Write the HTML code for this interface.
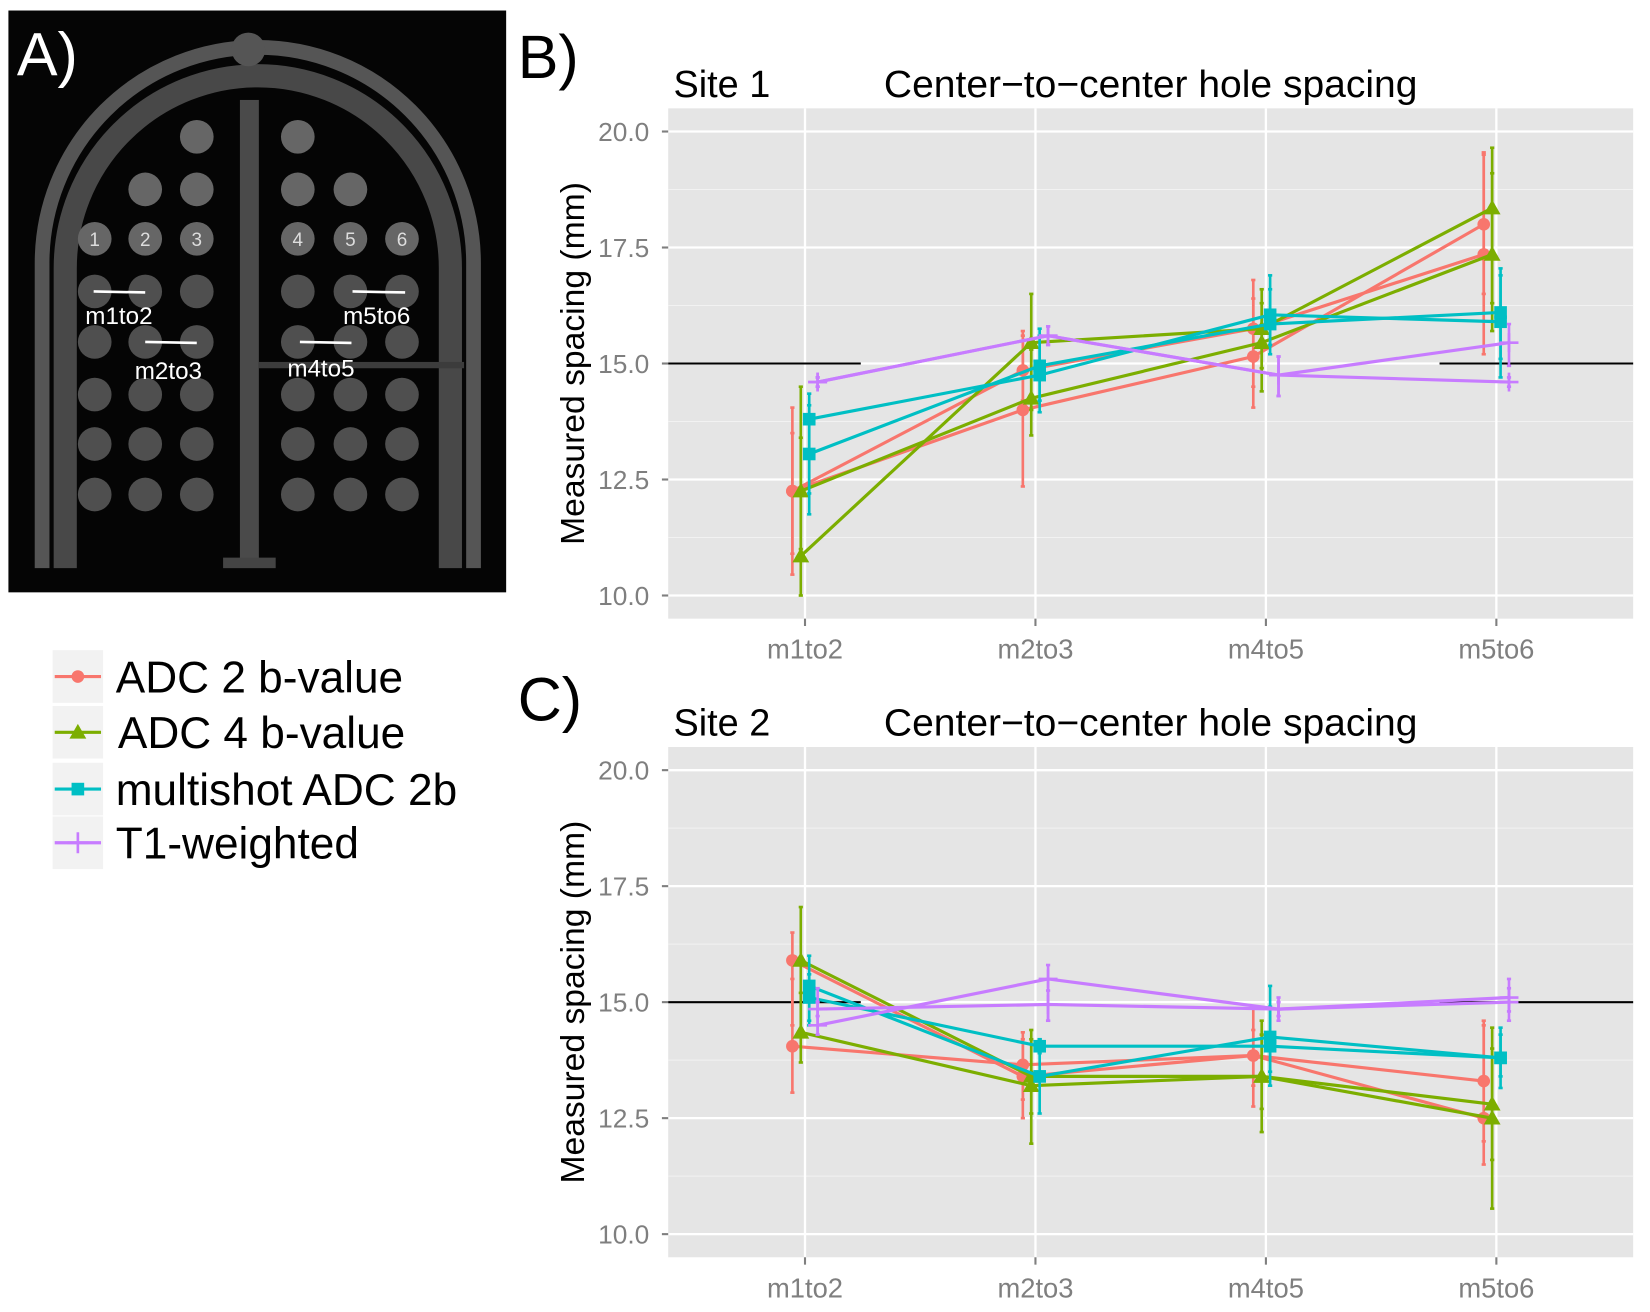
<!DOCTYPE html>
<html><head><meta charset="utf-8"><style>
html,body{margin:0;padding:0;background:#fff}
svg{display:block;font-family:"Liberation Sans",sans-serif}
</style></head><body>
<svg id="fig" width="1650" height="1312" viewBox="0 0 1568 1247" preserveAspectRatio="none" xmlns="http://www.w3.org/2000/svg">
<rect x="0" y="0" width="1568" height="1247" fill="#fff"/>
<g id="panelA">
<rect x="8" y="10" width="473" height="553" fill="#050505"/>
<path d="M40 540 L40 250 A205 205 0 0 1 450 250 L450 540" fill="none" stroke="#555" stroke-width="14"/>
<path d="M62 540 L62 255 A183 183 0 0 1 428 255 L428 540" fill="none" stroke="#484848" stroke-width="22"/>
<circle cx="236" cy="47" r="16" fill="#555"/>
<rect x="228" y="95" width="18" height="440" fill="#4a4a4a"/>
<rect x="212" y="530" width="50" height="10" fill="#444"/>
<rect x="246" y="344" width="195" height="6" fill="#3c3c3c"/>
<text x="16" y="72" font-size="58" fill="#fff">A)</text>
<g id="holes"></g>
</g>
<text x="492" y="74" font-size="58" fill="#000">B)</text>
<text x="492" y="685" font-size="58" fill="#000">C)</text>
<g id="panelB"></g>
<g id="panelC"></g>
<g id="legend"></g>
</svg>
<script>
const categories = ["m1to2","m2to3","m4to5","m5to6"];
const yTicks = [10.0,12.5,15.0,17.5,20.0];
const seriesNames = ["ADC 2 b-value","ADC 4 b-value","multishot ADC 2b","T1-weighted"];
const seriesColors = ["#F8766D","#7CAE00","#00BFC4","#C77CFF"];

const s1_adc2_a = [12.25,14.0,15.15,18.0];   const s1_adc2_a_lo=[10.45,12.35,14.05,16.5]; const s1_adc2_a_hi=[14.05,15.7,16.8,19.55];
const s1_adc2_b = [12.25,14.85,15.75,17.35]; const s1_adc2_b_lo=[10.9,14.2,14.5,15.2];   const s1_adc2_b_hi=[13.5,15.6,16.4,19.5];
const s1_adc4_a = [10.85,15.45,15.75,18.35]; const s1_adc4_a_lo=[10.0,14.0,14.4,16.3];   const s1_adc4_a_hi=[14.5,16.5,16.6,19.65];
const s1_adc4_b = [12.25,14.25,15.45,17.35]; const s1_adc4_b_lo=[11.0,13.45,14.9,15.7];  const s1_adc4_b_hi=[13.4,15.3,16.3,19.1];
const s1_ms_a   = [13.8,14.75,16.05,15.9];   const s1_ms_a_lo=[11.75,13.95,15.2,14.7];    const s1_ms_a_hi=[14.35,15.75,16.9,17.05];
const s1_ms_b   = [13.05,14.95,15.85,16.1];  const s1_ms_b_lo=[12.2,14.2,15.4,15.1];      const s1_ms_b_hi=[14.1,15.6,16.6,16.9];
const s1_t1_a   = [14.6,15.6,14.75,14.6];    const s1_t1_a_lo=[14.5,15.4,14.3,14.5];      const s1_t1_a_hi=[14.7,15.8,15.15,14.7];
const s1_t1_b   = [14.6,15.6,14.75,15.45];   const s1_t1_b_lo=[14.5,15.4,14.3,14.95];     const s1_t1_b_hi=[14.7,15.8,15.15,15.85];

const s2_adc2_a = [15.9,13.4,13.85,12.5];    const s2_adc2_a_lo=[14.5,12.5,12.75,11.5];   const s2_adc2_a_hi=[16.5,14.35,14.9,14.6];
const s2_adc2_b = [14.05,13.65,13.85,13.3];  const s2_adc2_b_lo=[13.05,12.9,13.2,12.0];   const s2_adc2_b_hi=[15.5,14.2,14.4,14.5];
const s2_adc4_a = [15.9,13.4,13.4,12.5];     const s2_adc4_a_lo=[14.3,11.95,12.2,10.55];  const s2_adc4_a_hi=[17.05,14.4,14.6,14.45];
const s2_adc4_b = [14.35,13.2,13.4,12.8];    const s2_adc4_b_lo=[13.7,12.6,12.7,11.6];    const s2_adc4_b_hi=[15.2,14.2,14.3,14.0];
const s2_ms_a   = [15.35,13.4,14.25,13.8];   const s2_ms_a_lo=[14.5,12.6,13.2,13.15];     const s2_ms_a_hi=[16.0,14.2,15.35,14.45];
const s2_ms_b   = [15.1,14.05,14.05,13.8];   const s2_ms_b_lo=[14.6,13.9,13.5,13.4];      const s2_ms_b_hi=[15.6,14.2,14.9,14.3];
const s2_t1_a   = [14.5,15.5,14.85,15.1];    const s2_t1_a_lo=[14.3,14.6,14.6,14.6];      const s2_t1_a_hi=[15.3,15.8,15.1,15.5];
const s2_t1_b   = [14.85,14.95,14.85,15.0];  const s2_t1_b_lo=[14.7,14.6,14.7,14.8];      const s2_t1_b_hi=[15.0,15.25,15.0,15.3];

const NS="http://www.w3.org/2000/svg";
function mk(tag,attrs,parent){const e=document.createElementNS(NS,tag);for(const k in attrs)e.setAttribute(k,attrs[k]);parent.appendChild(e);return e;}

(function(){
  const g=document.getElementById('holes');
  const cols=[90,138,187,283,333,382];
  const rows=[130,180,227,277,325,375,422,470];
  rows.forEach((y,ri)=>cols.forEach((x,ci)=>{
    if(ri===0 && !(ci===2||ci===3)) return;
    if(ri===1 && !(ci>=1&&ci<=4)) return;
    const c=mk('circle',{cx:x,cy:y,r:16,fill:ri<3?'#666':'#4f4f4f'},g);
    
    
    if(ri===2){const t=mk('text',{x:x,y:y+7,'font-size':18,fill:'#ddd','text-anchor':'middle'},g);t.textContent=String(ci+1);
      }
  }));
  const marks=[[89,277,138,'m1to2',113,308],[138,325,187,'m2to3',160,360],[285,325,334,'m4to5',305,358],[335,277,385,'m5to6',358,308]];
  marks.forEach(m=>{
    const l=mk('line',{x1:m[0],y1:m[1],x2:m[2],y2:m[1]+1,stroke:'#fff','stroke-width':2.5},g);
    
    const t=mk('text',{x:m[4],y:m[5],'font-size':23,fill:'#fff','text-anchor':'middle'},g);t.textContent=m[3];
    
  });
})();

function drawPanel(g, top, site, lines){
  const L=635,R=1552,T=top,B=top+485;
  const yTop=top+22, unit=(485-44)/10;
  const y=v=>yTop+(20-v)*unit;
  const x=i=>765+i*219;
  const bg=mk('rect',{x:L,y:T,width:R-L,height:B-T,fill:'#e5e5e5'},g);
  
  for(let i=0;i<yTicks.length-1;i++){const v=(yTicks[i]+yTicks[i+1])/2;mk('line',{x1:L,x2:R,y1:y(v),y2:y(v),stroke:'#f2f2f2','stroke-width':1},g);}
  yTicks.forEach(v=>{
    mk('line',{x1:L,x2:R,y1:y(v),y2:y(v),stroke:'#fff','stroke-width':2.2},g);
    mk('line',{x1:L-6,x2:L,y1:y(v),y2:y(v),stroke:'#7f7f7f','stroke-width':2},g);
    const t=mk('text',{x:L-18,y:y(v)+9,'font-size':25,fill:'#7f7f7f','text-anchor':'end'},g);t.textContent=v.toFixed(1);
    
  });
  categories.forEach((c,i)=>{
    mk('line',{x1:x(i),x2:x(i),y1:T,y2:B,stroke:'#fff','stroke-width':2.2},g);
    mk('line',{x1:x(i),x2:x(i),y1:B,y2:B+7,stroke:'#7f7f7f','stroke-width':2},g);
    const t=mk('text',{x:x(i),y:B+38,'font-size':26,fill:'#7f7f7f','text-anchor':'middle'},g);t.textContent=c;
    
  });
  const r1=mk('line',{x1:L,x2:818,y1:y(15),y2:y(15),stroke:'#000','stroke-width':2},g);
  
  const r2=mk('line',{x1:1368,x2:R,y1:y(15),y2:y(15),stroke:'#000','stroke-width':2},g);
  
  const offs=[-12,-4,4,12];
  lines.forEach(ln=>{
    const s=ln[0],vals=ln[1],lo=ln[2],hi=ln[3],col=seriesColors[s],dx=offs[s];
    const pts=vals.map((v,i)=>(x(i)+dx)+','+y(v)).join(' ');
    const pl=mk('polyline',{points:pts,fill:'none',stroke:col,'stroke-width':3},g);
    
    vals.forEach((v,i)=>{
      const cx=x(i)+dx;
      const eb=mk('line',{x1:cx,x2:cx,y1:y(lo[i]),y2:y(hi[i]),stroke:col,'stroke-width':2.5},g);
      
      mk('line',{x1:cx-2,x2:cx+2,y1:y(lo[i]),y2:y(lo[i]),stroke:col,'stroke-width':2.5},g);
      mk('line',{x1:cx-2,x2:cx+2,y1:y(hi[i]),y2:y(hi[i]),stroke:col,'stroke-width':2.5},g);
      let p;
      const cy=y(v);
      if(s===0)p=mk('circle',{cx:cx,cy:cy,r:6,fill:col},g);
      else if(s===1)p=mk('polygon',{points:`${cx},${cy-8} ${cx-8},${cy+6} ${cx+8},${cy+6}`,fill:col},g);
      else if(s===2)p=mk('rect',{x:cx-6,y:cy-6,width:12,height:12,fill:col},g);
      else p=mk('path',{d:`M${cx-9} ${cy}H${cx+9}M${cx} ${cy-9}V${cy+9}`,stroke:col,'stroke-width':2.5},g);
      
    });
  });
  const st=mk('text',{x:640,y:top-11,'font-size':36,fill:'#000'},g);st.textContent=site;
  
  const tt=mk('text',{x:840,y:top-11,'font-size':36,fill:'#000',textLength:507,lengthAdjust:'spacingAndGlyphs'},g);tt.textContent='Center\u2212to\u2212center hole spacing';
  
  const yt=mk('text',{x:0,y:0,'font-size':32,fill:'#000','text-anchor':'middle',transform:`translate(555,${y(15)}) rotate(-90)`},g);yt.textContent='Measured spacing (mm)';
  
}

drawPanel(document.getElementById('panelB'),103,'Site 1',[
  [0,s1_adc2_a,s1_adc2_a_lo,s1_adc2_a_hi],[0,s1_adc2_b,s1_adc2_b_lo,s1_adc2_b_hi],
  [1,s1_adc4_a,s1_adc4_a_lo,s1_adc4_a_hi],[1,s1_adc4_b,s1_adc4_b_lo,s1_adc4_b_hi],
  [2,s1_ms_a,s1_ms_a_lo,s1_ms_a_hi],[2,s1_ms_b,s1_ms_b_lo,s1_ms_b_hi],
  [3,s1_t1_a,s1_t1_a_lo,s1_t1_a_hi],[3,s1_t1_b,s1_t1_b_lo,s1_t1_b_hi]]);
drawPanel(document.getElementById('panelC'),710,'Site 2',[
  [0,s2_adc2_a,s2_adc2_a_lo,s2_adc2_a_hi],[0,s2_adc2_b,s2_adc2_b_lo,s2_adc2_b_hi],
  [1,s2_adc4_a,s2_adc4_a_lo,s2_adc4_a_hi],[1,s2_adc4_b,s2_adc4_b_lo,s2_adc4_b_hi],
  [2,s2_ms_a,s2_ms_a_lo,s2_ms_a_hi],[2,s2_ms_b,s2_ms_b_lo,s2_ms_b_hi],
  [3,s2_t1_a,s2_t1_a_lo,s2_t1_a_hi],[3,s2_t1_b,s2_t1_b_lo,s2_t1_b_hi]]);

(function(){
  const g=document.getElementById('legend');
  const ys=[643,696,750,801];
  seriesNames.forEach((n,i)=>{
    const cy=ys[i],col=seriesColors[i];
    const box=mk('rect',{x:50,y:cy-25,width:48,height:50,fill:'#f2f2f2'},g);
    
    mk('line',{x1:52,x2:96,y1:cy,y2:cy,stroke:col,'stroke-width':3},g);
    if(i===0)mk('circle',{cx:74,cy:cy,r:6,fill:col},g);
    else if(i===1)mk('polygon',{points:`74,${cy-8} 66,${cy+6} 82,${cy+6}`,fill:col},g);
    else if(i===2)mk('rect',{x:68,y:cy-6,width:12,height:12,fill:col},g);
    else mk('path',{d:`M64 ${cy}H84M74 ${cy-10}V${cy+10}`,stroke:col,'stroke-width':2.5},g);
    const t=mk('text',{x:i===1?112:110,y:cy+15,'font-size':42,fill:'#000'},g);t.textContent=n;
    
  });
})();
</script>
</body></html>
